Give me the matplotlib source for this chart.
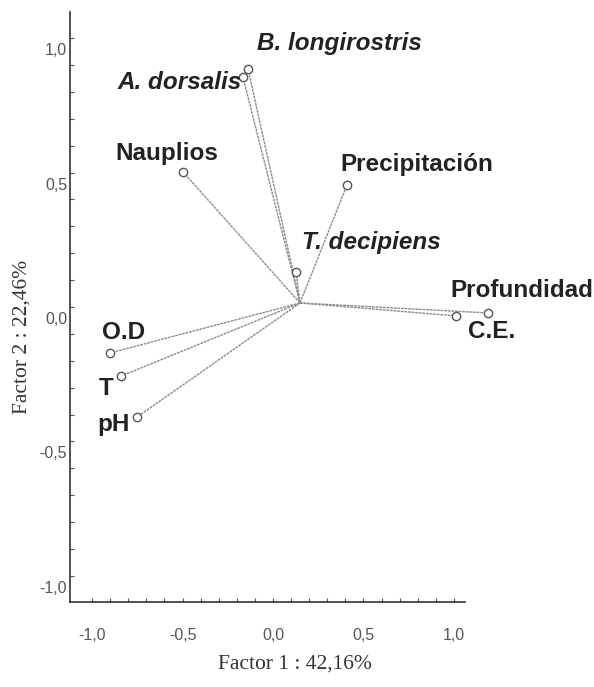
import numpy as np
import matplotlib
matplotlib.use("Agg")
import matplotlib.pyplot as plt
from matplotlib.transforms import ScaledTranslation

# loadings (factor 1, factor 2)
variables = ["B. longirostris", "A. dorsalis", "Nauplios", "T. decipiens",
             "Precipitación", "Profundidad", "C.E.", "O.D", "T", "pH"]
factor1 = [-0.138, -0.166, -0.497, 0.127, 0.409, 1.188, 1.011, -0.901, -0.840, -0.751]
factor2 = [0.885, 0.855, 0.502, 0.130, 0.454, -0.022, -0.033, -0.171, -0.257, -0.409]
species = ["B. longirostris", "A. dorsalis", "T. decipiens"]
centre = (0.149, 0.015)

ticks = [-1.0, -0.5, 0.0, 0.5, 1.0]
tick_labels = ["-1,0", "-0,5", "0,0", "0,5", "1,0"]

# label placement (pixel offsets from the circle, alignment)
label_offsets = {
    "B. longirostris": (9, 26, "left"),
    "A. dorsalis": (-1, -5, "right"),
    "Nauplios": (-68, 19, "left"),
    "T. decipiens": (6, 30, "left"),
    "Precipitación": (-7, 20, "left"),
    "Profundidad": (-38, 22, "left"),
    "C.E.": (12, -16, "left"),
    "O.D": (-8, 20, "left"),
    "T": (-22, -12, "left"),
    "pH": (-7, -8, "right"),
}

fig = plt.figure(figsize=(5.94, 6.87), dpi=100)
ax = fig.add_axes([70 / 594, 1 - 602 / 687, 395 / 594, 590 / 687])
ax.set_xlim(-1.122, 1.061)
ax.set_ylim(-1.097, 1.097)

line_col = "#8c8c8c"
for name, x, y in zip(variables, factor1, factor2):
    ax.plot([centre[0], x], [centre[1], y], color=line_col, lw=1.0,
            ls=(0, (2, 0.6)), clip_on=False, zorder=2)
    ax.plot(x, y, "o", ms=6, mfc="white", mec="#555555", mew=1.0,
            clip_on=False, zorder=3)
    dx, dy, ha = label_offsets[name]
    style = "italic" if name in species else "normal"
    ax.annotate(name, (x, y), xytext=(dx, dy), textcoords="offset pixels",
                ha=ha, va="center", fontsize=17.5, fontweight="bold",
                fontstyle=style, family="Liberation Sans", color="#222222",
                annotation_clip=False)

for side in ["top", "right"]:
    ax.spines[side].set_visible(False)
for side in ["left", "bottom"]:
    ax.spines[side].set_color("#333333")
    ax.spines[side].set_linewidth(1.2)

ax.set_xticks(ticks)
ax.set_xticklabels(tick_labels)
ax.set_yticks(ticks)
ax.set_yticklabels(tick_labels)
ax.set_xticks(np.arange(-1.0, 1.05, 0.1), minor=True)
ax.set_yticks(np.arange(-1.0, 1.05, 0.1), minor=True)
ax.tick_params(which="both", direction="in", length=3, width=0.8,
               color="#555555", labelsize=11.5, labelcolor="#555555")
ax.tick_params(axis="x", pad=19)
ax.tick_params(axis="y", pad=2)
for lab in ax.get_xticklabels() + ax.get_yticklabels():
    lab.set_family("Liberation Sans")
shift = ScaledTranslation(0, -0.11, fig.dpi_scale_trans)
for lab in ax.get_yticklabels():
    lab.set_transform(lab.get_transform() + shift)

fig.text(295 / 594, 1 - 664 / 687, "Factor 1 : 42,16%", ha="center", va="center",
         fontsize=15.5, family="Liberation Serif", color="#333333")
fig.text(22 / 594, 1 - 337 / 687, "Factor 2 : 22,46%", ha="center", va="center",
         rotation=90, fontsize=15.5, family="Liberation Serif", color="#333333")

fig.savefig("out.png", dpi=100, facecolor="white")
